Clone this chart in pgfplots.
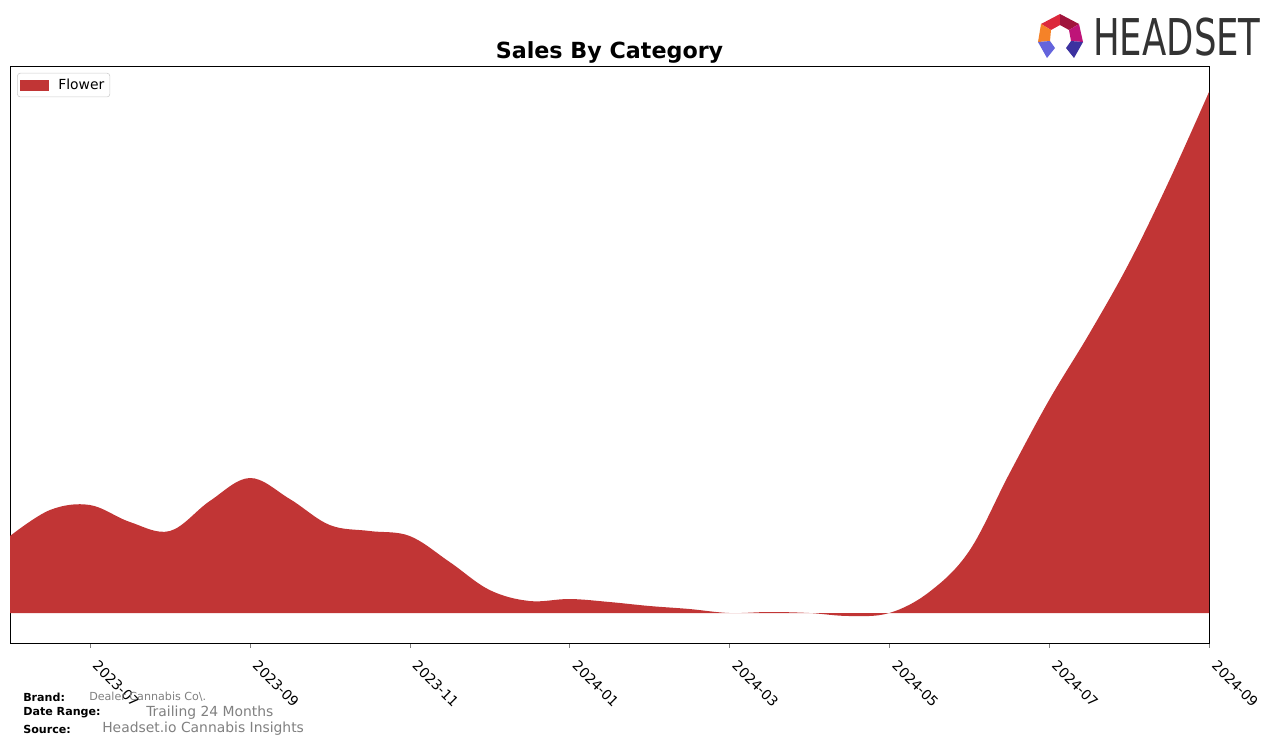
\documentclass[border=0pt]{standalone}
\usepackage{fontspec}
\setmainfont{DejaVu Sans}
\usepackage{pgfplots}
\pgfplotsset{compat=1.18}
\usepgfplotslibrary{fillbetween}
\definecolor{flower}{RGB}{193,53,53}
\definecolor{footgray}{RGB}{128,128,128}
\definecolor{logogray}{RGB}{51,51,51}
\definecolor{lgA}{RGB}{220,40,60}
\definecolor{lgB}{RGB}{160,20,60}
\definecolor{lgC}{RGB}{245,130,40}
\definecolor{lgD}{RGB}{190,20,120}
\definecolor{lgE}{RGB}{100,100,220}
\definecolor{lgF}{RGB}{60,50,160}
\begin{document}
\begin{tikzpicture}[x=0.72pt,y=-0.72pt]
\path (0,0) rectangle (1276,745);
\begin{axis}[
  at={(7.2pt,-47.52pt)}, anchor=north west,
  scale only axis, width=863.28pt, height=415.44pt,
  xmin=0, xmax=15, ymin=-30, ymax=547,
  xtick={1,3,5,7,9,11,13,15},
  xticklabels={2023-07,2023-09,2023-11,2024-01,2024-03,2024-05,2024-07,2024-09},
  ytick=\empty,
  tick align=outside, major tick length=3.5pt, xtick pos=bottom,
  xticklabel style={rotate=-45, anchor=north west, font=\fontsize{10}{12}\selectfont, inner sep=1pt, xshift=9.5pt, yshift=0pt},
  axis line style={line width=0.6pt},
  legend style={at={(0.006,0.988)}, anchor=north west, draw={rgb,255:red,204;green,204;blue,204}, rounded corners=2pt, font=\fontsize{10}{12}\selectfont, inner sep=2pt,
    /tikz/every odd column/.append style={column sep=5pt}},
  legend cell align=left,
]
\addlegendimage{legend image code/.code={\fill[flower, sharp corners] (3pt,-3.6pt) rectangle (23pt,3.6pt);}}
\addlegendentry{Flower}
\addplot[name path=f, draw=none, smooth, tension=0.6, forget plot] coordinates {
(0.0,77) (0.5,103) (1.0,108) (1.5,91) (2.0,82) (2.5,112) (3.0,135) (3.5,114)
(4.0,88) (4.5,82) (5.0,77) (5.5,51) (6.0,23) (6.5,12) (7.0,14) (7.5,11) (8.0,7)
(8.5,4) (9.0,0) (9.5,1) (10.0,0) (10.5,-3) (11.0,0) (11.5,21) (12.0,62)
(12.5,139) (13.0,213) (13.5,279) (14.0,350) (14.5,432) (15.0,521)};
\addplot[name path=z, draw=none, forget plot] coordinates {(0,0) (15,0)};
\addplot[fill=flower, draw=none, forget plot] fill between[of=f and z];
\end{axis}
\node[anchor=base, inner sep=0pt] at (609.5,58) {\bfseries\fontsize{16}{19}\selectfont Sales By Category};
% logo
\fill[lgA] (1041,24) -- (1060,14) -- (1060,25) -- (1051,30) -- cycle;
\fill[lgB] (1060,14) -- (1079,24) -- (1069,30) -- (1060,25) -- cycle;
\fill[lgC] (1041,24) -- (1051,30) -- (1050,41) -- (1038,42) -- cycle;
\fill[lgD] (1079,24) -- (1083,42) -- (1071,41) -- (1069,30) -- cycle;
\fill[lgE] (1038,42) -- (1050,41) -- (1055,48) -- (1047,58) -- cycle;
\fill[lgF] (1083,42) -- (1071,41) -- (1066,48) -- (1074,58) -- cycle;
\node[anchor=west, inner sep=0pt, text=logogray] at (1093,37) {\scalebox{0.70}[1]{\fontsize{36.5}{40}\selectfont HEADSET}};
% footer
\node[anchor=west, inner sep=0pt] at (23,697) {\fontsize{8}{10}\selectfont\bfseries Brand:};
\node[anchor=west, inner sep=0pt, text=footgray] at (89,697) {\fontsize{8}{10}\selectfont Dealer Cannabis Co\textbackslash.};
\node[anchor=west, inner sep=0pt] at (23,713) {\fontsize{8}{10}\selectfont\bfseries Date Range:};
\node[anchor=west, inner sep=0pt, text=footgray] at (146,713) {\fontsize{10}{12}\selectfont Trailing 24 Months};
\node[anchor=west, inner sep=0pt] at (23,729) {\fontsize{8}{10}\selectfont\bfseries Source:};
\node[anchor=west, inner sep=0pt, text=footgray] at (102,729) {\fontsize{10}{12}\selectfont Headset.io Cannabis Insights};
\end{tikzpicture}
\end{document}
